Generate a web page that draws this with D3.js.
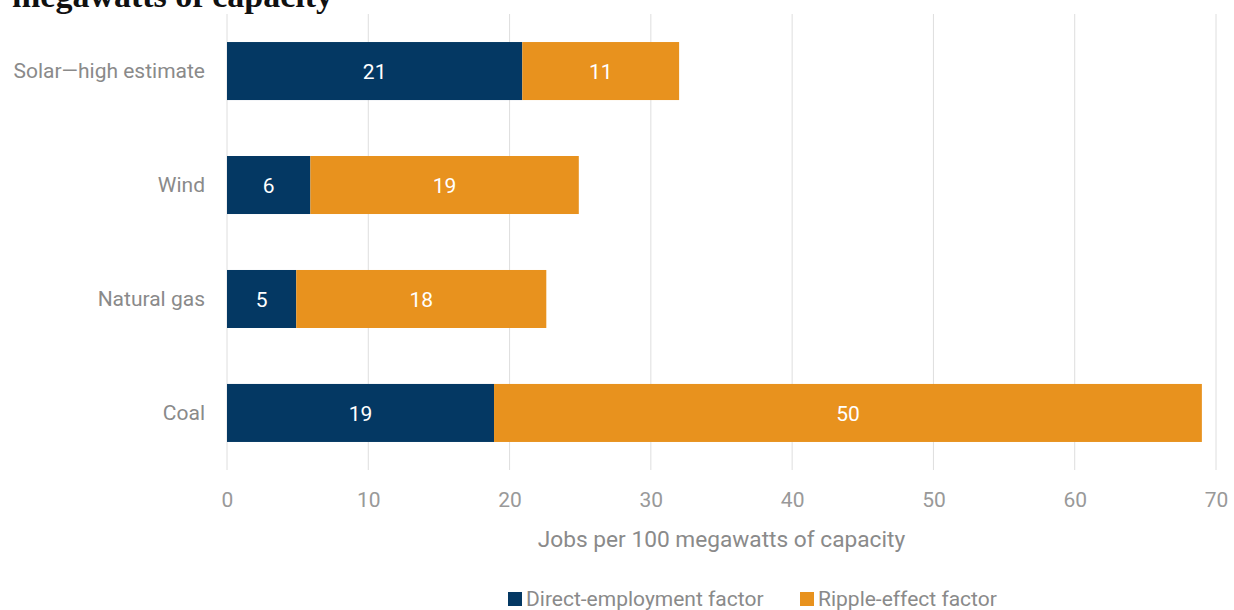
<!DOCTYPE html>
<html><head><meta charset="utf-8">
<script src="https://cdn.jsdelivr.net/npm/d3@7"></script>
<style>
body{margin:0;background:#fff;}
svg{display:block;}
</style></head>
<body>
<svg id="chart" width="1234" height="610"></svg>
<script>
const categories = ["Solar\u2014high estimate", "Wind", "Natural gas", "Coal"];
const seriesNames = ["Direct-employment factor", "Ripple-effect factor"];
const directValues = [20.9, 5.9, 4.9, 18.9];
const rippleValues = [11.1, 19.0, 17.7, 50.1];
const xTicks = [0, 10, 20, 30, 40, 50, 60, 70];
const colors = ["#043863", "#E8921E"];
const titleText = "megawatts of capacity";
const axisTitle = "Jobs per 100 megawatts of capacity";

const font = "Roboto,'Noto Sans',sans-serif";
const svg = d3.select("#chart");

const x = d3.scaleLinear().domain([0, 70]).range([227, 1216]);
const y = d3.scaleBand().domain(categories).range([14, 470]).paddingInner(0.491).paddingOuter(0.246);

const rows = categories.map((c, i) => ({cat: c, vals: [directValues[i], rippleValues[i]]}));
const stack = d3.stack().keys([0, 1]).value((d, k) => d.vals[k]);
const stacked = stack(rows);

// title (cropped at top, as in the reference)
svg.append("text").attr("x", 12).attr("y", 7)
  .attr("font-family", "'Liberation Serif','DejaVu Serif',serif")
  .attr("font-weight", "bold").attr("font-size", 34).attr("fill", "#111")
  .text(titleText);

// gridlines
svg.append("g").selectAll("line").data(xTicks).join("line")
  .attr("x1", d => x(d)).attr("x2", d => x(d))
  .attr("y1", 14).attr("y2", 470)
  .attr("stroke", "#dedede").attr("stroke-width", 1);

// bars
const g = svg.append("g");
stacked.forEach((layer, k) => {
  g.append("g").selectAll("rect").data(layer).join("rect")
    .attr("x", d => x(d[0])).attr("width", d => x(d[1]) - x(d[0]))
    .attr("y", d => y(d.data.cat)).attr("height", y.bandwidth())
    .attr("fill", colors[k]);
  g.append("g").selectAll("text").data(layer).join("text")
    .attr("x", d => (x(d[0]) + x(d[1])) / 2)
    .attr("y", d => y(d.data.cat) + y.bandwidth() / 2)
    .attr("dy", "0.36em").attr("text-anchor", "middle")
    .attr("font-family", font).attr("font-size", 21).attr("fill", "#fff")
    .text(d => d3.format(".0f")(d[1] - d[0]));
});

// category labels
const yAxis = d3.axisLeft(y).tickSize(0).tickPadding(22);
const ya = svg.append("g").attr("transform", "translate(227,0)").call(yAxis);
ya.select(".domain").remove();
ya.selectAll("text").attr("font-family", font).attr("font-size", 21).attr("fill", "#8a8a8a");

// x axis
const xAxis = d3.axisBottom(x).tickValues(xTicks).tickSize(0).tickPadding(22);
const xa = svg.append("g").attr("transform", "translate(0,470)").call(xAxis);
xa.select(".domain").remove();
xa.selectAll("text").attr("font-family", font).attr("font-size", 21).attr("fill", "#999");

svg.append("text").attr("x", (x(0) + x(70)) / 2).attr("y", 547)
  .attr("text-anchor", "middle").attr("font-family", font).attr("font-size", 22.7)
  .attr("fill", "#8a8a8a").text(axisTitle);

// legend
const legX = [508, 800];
const leg = svg.append("g").selectAll("g").data(seriesNames).join("g")
  .attr("transform", (d, i) => `translate(${legX[i]},592)`);
leg.append("rect").attr("width", 14).attr("height", 14).attr("fill", (d, i) => colors[i]);
leg.append("text").attr("x", 18).attr("y", 14)
  .attr("font-family", font).attr("font-size", 21).attr("fill", "#8a8a8a").text(d => d);
</script>
</body></html>
